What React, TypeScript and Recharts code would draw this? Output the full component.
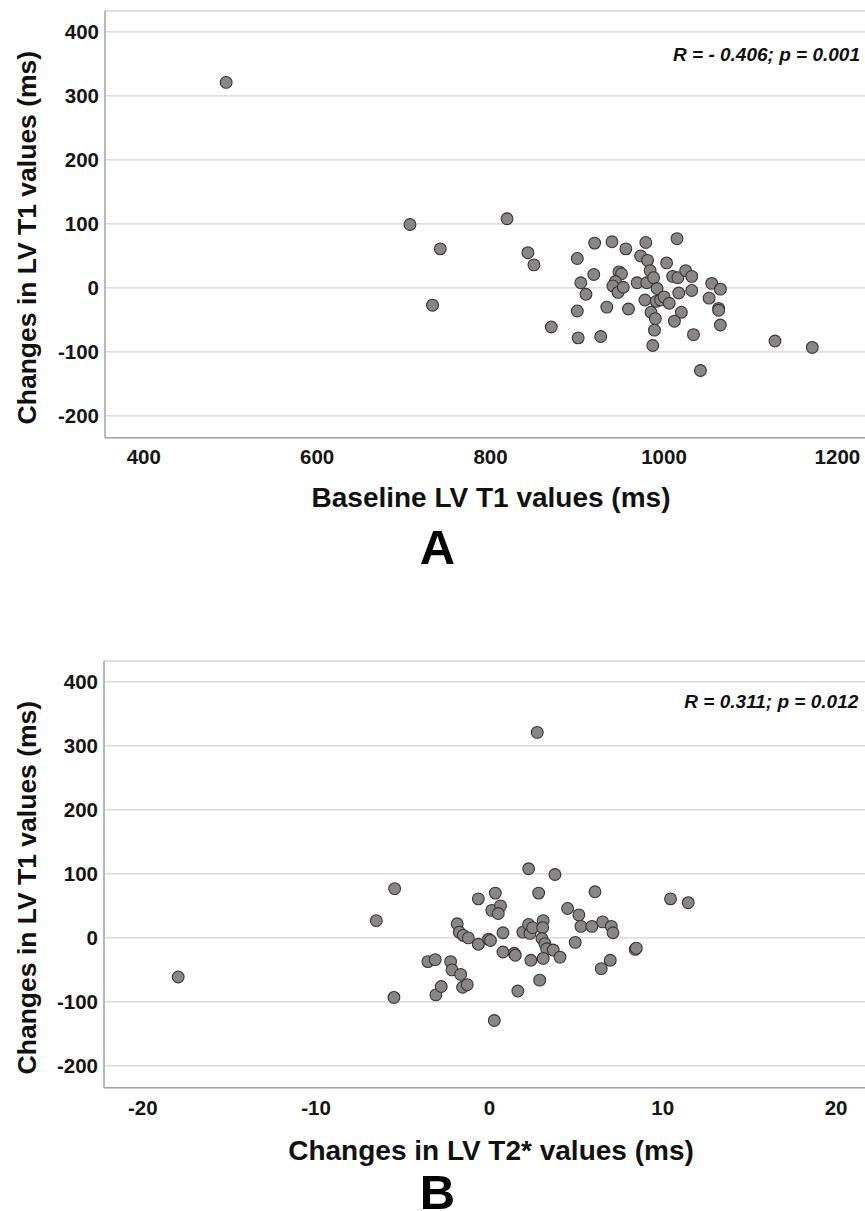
import React from 'react'
import { ScatterChart, Scatter, XAxis, YAxis, CartesianGrid } from 'recharts'

// Panel A: baseline LV T1 (ms) vs change in LV T1 (ms)
const baselineT1 = [
  495, 707, 742, 733, 819, 843, 850, 870, 900, 904, 910, 900, 901, 920, 919, 927,
  934, 940, 948, 951, 944, 941, 947, 953, 956, 959, 969, 973, 979, 981, 980, 978,
  984, 988, 992, 985, 990, 989, 987, 991, 996, 1000, 1006, 1003, 1010, 1016, 1015,
  1017, 1020, 1012, 1025, 1032, 1032, 1034, 1042, 1052, 1055, 1065, 1063, 1063,
  1065, 1128, 1171,
]
const changeT1A = [
  321, 99, 61, -27, 108, 55, 36, -61, 46, 8, -10, -36, -78, 70, 21, -76,
  -30, 72, 25, 22, 10, 3, -7, 1, 61, -33, 8, 50, 71, 43, 8, -19,
  27, 16, -1, -38, -48, -66, -90, -21, -19, -14, -24, 39, 18, 16, 77,
  -8, -38, -52, 27, 18, -4, -73, -129, -16, 7, -2, -32, -35,
  -58, -83, -93,
]

// Panel B: change in LV T2* (ms) vs change in LV T1 (ms)
const changeT2star = [
  -17.96, -5.47, -6.53, -5.51, -3.55, -3.13, -3.09, 2.76, 2.26, 3.78, 2.84, 6.09,
  -0.64, 0.34, 0.14, 0.64, 0.51, 10.45, 11.47, 4.51, 5.16, 5.28, 5.91, 6.53, 7.03,
  7.13, 4.95, 8.41, 8.47, 6.97, 6.45, -1.86, -1.74, -1.51, -1.22, -0.64, -0.05, 0.06,
  0.78, 0.78, 1.43, 1.49, 1.93, 2.26, 2.34, 2.49, 3.1, 3.07, 3.03, 3.2, 3.3, 3.68,
  4.07, 3.1, 2.39, 2.9, 1.64, 0.28, -2.24, -2.16, -1.66, -1.55, -1.28, -2.78,
]
const changeT1B = [
  -61, 77, 27, -93, -37, -34, -89, 321, 108, 99, 70, 72,
  61, 70, 43, 50, 38, 61, 55, 46, 36, 18, 18, 25, 18,
  8, -7, -18, -16, -35, -48, 22, 9, 4, 0, -10, -2, -4,
  8, -22, -24, -27, 9, 21, 7, 16, 27, 16, -1, -9, -17, -19,
  -30, -32, -35, -66, -83, -129, -37, -50, -57, -77, -73, -76,
]

const yTicks = [-200, -100, 0, 100, 200, 300, 400]
const xTicksA = [400, 600, 800, 1000, 1200]
const xTicksB = [-20, -10, 0, 10, 20]

const FONT = '"Liberation Sans", Arial, Helvetica, sans-serif'
const W = 865
const H = 600
const PLOT_TOP = 11
const AXIS_Y = 437.7

const dot = (p: any) => (
  <circle cx={p.cx} cy={p.cy} r={5.9} fill="#8b8686" stroke="#363636" strokeWidth={1.1} />
)

interface PanelProps {
  top: number
  xs: number[]
  ys: number[]
  xDomain: [number, number]
  xTicks: number[]
  yAxisWidth: number
  tickGap: number
  xTitle: string
  titleDy: number
  letter: string
  letterDy: number
  stat: string
  statX: number
  statDy: number
}

function Panel(props: PanelProps) {
  const { top, xs, ys, xDomain, xTicks, yAxisWidth, tickGap, xTitle, titleDy, letter, letterDy, stat, statX, statDy } = props
  const data = xs.map((x, i) => ({ x, y: ys[i] }))
  const tickStyle = { fill: '#151515', fontSize: 20.5, fontWeight: 700, fontFamily: FONT }
  const yMid = PLOT_TOP + 226.6

  return (
    <div style={{ position: 'absolute', left: 0, top, width: W, height: H }}>
      <ScatterChart width={W} height={H} margin={{ top: PLOT_TOP, right: 0, left: 0, bottom: 0 }}>
        <CartesianGrid vertical={false} stroke="#d3d3d3" strokeWidth={1.3} />
        <XAxis
          type="number"
          dataKey="x"
          domain={xDomain}
          ticks={xTicks}
          allowDataOverflow
          height={H - AXIS_Y}
          tickLine={false}
          tickSize={0}
          tickMargin={tickGap}
          axisLine={{ stroke: '#a3a3a3', strokeWidth: 1.5 }}
          tick={tickStyle}
        />
        <YAxis
          type="number"
          dataKey="y"
          domain={[-234, 432.5]}
          ticks={yTicks}
          allowDataOverflow
          width={yAxisWidth}
          tickLine={false}
          tickSize={0}
          tickMargin={6}
          axisLine={{ stroke: '#a3a3a3', strokeWidth: 1.5 }}
          tick={tickStyle}
        />
        <Scatter data={data} shape={dot} isAnimationActive={false} />
      </ScatterChart>
      <svg width={W} height={H} style={{ position: 'absolute', left: 0, top: 0, pointerEvents: 'none' }}>
        <text
          x={36}
          y={yMid}
          transform={`rotate(-90 36 ${yMid})`}
          textAnchor="middle"
          fontFamily={FONT}
          fontWeight={700}
          fontSize={26.5}
          fill="#111"
        >
          Changes in LV T1 values (ms)
        </text>
        <text x={491} y={AXIS_Y + titleDy} textAnchor="middle" fontFamily={FONT} fontWeight={700} fontSize={28} fill="#111">
          {xTitle}
        </text>
        <text x={437.5} y={AXIS_Y + letterDy} textAnchor="middle" fontFamily={FONT} fontWeight={700} fontSize={49} fill="#000">
          {letter}
        </text>
        <text x={statX} y={PLOT_TOP + statDy} textAnchor="end" fontFamily={FONT} fontWeight={700} fontStyle="italic" fontSize={19} fill="#111">
          {stat}
        </text>
      </svg>
    </div>
  )
}

export default function App() {
  return (
    <div style={{ position: 'absolute', left: 0, top: 0, width: W, height: 1211, overflow: 'hidden', background: '#fff' }}>
      <Panel
        top={0}
        xs={baselineT1}
        ys={changeT1A}
        xDomain={[355.3, 1231.8]}
        xTicks={xTicksA}
        yAxisWidth={105}
        tickGap={11.3}
        xTitle="Baseline LV T1 values (ms)"
        titleDy={69.3}
        letter="A"
        letterDy={126.5}
        stat="R = - 0.406; p = 0.001"
        statX={860}
        statDy={49.5}
      />
      <Panel
        top={649.7}
        xs={changeT2star}
        ys={changeT1B}
        xDomain={[-22.24, 21.67]}
        xTicks={xTicksB}
        yAxisWidth={104}
        tickGap={12.7}
        xTitle="Changes in LV T2* values (ms)"
        titleDy={72.7}
        letter="B"
        letterDy={121.5}
        stat="R = 0.311; p = 0.012"
        statX={858.3}
        statDy={47.3}
      />
    </div>
  )
}
